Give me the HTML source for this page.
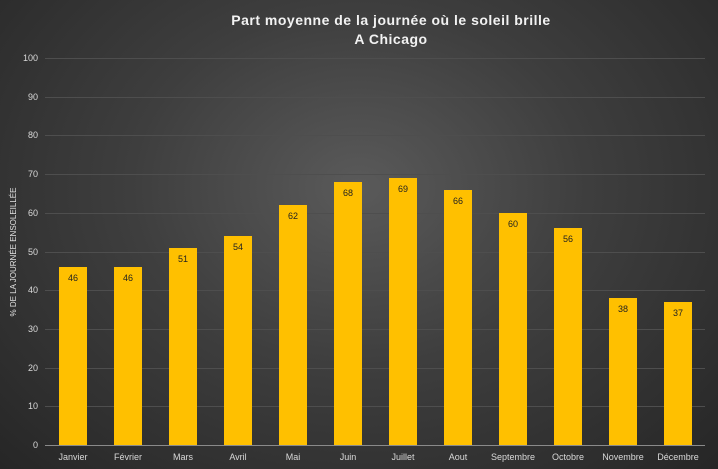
<!DOCTYPE html>
<html><head><meta charset="utf-8"><style>
html,body{margin:0;padding:0;}
body{width:718px;height:469px;overflow:hidden;background:radial-gradient(ellipse at 50% 40%,#5a5a5a 0%,#3e3e3e 45%,#262626 100%);font-family:"Liberation Sans",sans-serif;}
</style></head><body>
<svg width="718" height="469" xmlns="http://www.w3.org/2000/svg" style="position:absolute;left:0;top:0">
<g font-family="Liberation Sans, sans-serif">
<text x="391" y="25" text-anchor="middle" fill="#f2f2f2" font-size="14" font-weight="bold" letter-spacing="0.5">Part moyenne de la journée où le soleil brille</text>
<text x="391" y="44" text-anchor="middle" fill="#f2f2f2" font-size="14" font-weight="bold" letter-spacing="0.5">A Chicago</text>
<g stroke="#4e4e4e" stroke-width="1">
<line x1="45" x2="705" y1="58.5" y2="58.5"/><line x1="45" x2="705" y1="97.5" y2="97.5"/>
<line x1="45" x2="705" y1="135.5" y2="135.5"/><line x1="45" x2="705" y1="174.5" y2="174.5"/>
<line x1="45" x2="705" y1="213.5" y2="213.5"/><line x1="45" x2="705" y1="252.5" y2="252.5"/>
<line x1="45" x2="705" y1="290.5" y2="290.5"/><line x1="45" x2="705" y1="329.5" y2="329.5"/>
<line x1="45" x2="705" y1="368.5" y2="368.5"/><line x1="45" x2="705" y1="406.5" y2="406.5"/>
</g>
<g fill="#d9d9d9" font-size="9" text-anchor="end">
<text x="38" y="61">100</text><text x="38" y="100">90</text><text x="38" y="138">80</text>
<text x="38" y="177">70</text><text x="38" y="216">60</text><text x="38" y="255">50</text>
<text x="38" y="293">40</text><text x="38" y="332">30</text><text x="38" y="371">20</text>
<text x="38" y="409">10</text><text x="38" y="448">0</text>
</g>
<text transform="translate(16,252) rotate(-90)" text-anchor="middle" fill="#e0e0e0" font-size="8">% DE LA JOURNÉE ENSOLEILLÉE</text>
<g fill="#ffc000">
<rect x="59" y="267" width="28" height="178"/>
<rect x="114" y="267" width="28" height="178"/>
<rect x="169" y="248" width="28" height="197"/>
<rect x="224" y="236" width="28" height="209"/>
<rect x="279" y="205" width="28" height="240"/>
<rect x="334" y="182" width="28" height="263"/>
<rect x="389" y="178" width="28" height="267"/>
<rect x="444" y="190" width="28" height="255"/>
<rect x="499" y="213" width="28" height="232"/>
<rect x="554" y="228" width="28" height="217"/>
<rect x="609" y="298" width="28" height="147"/>
<rect x="664" y="302" width="28" height="143"/>
</g>
<g fill="#222" font-size="9" text-anchor="middle">
<text x="73" y="281">46</text><text x="128" y="281">46</text><text x="183" y="262">51</text>
<text x="238" y="250">54</text><text x="293" y="219">62</text><text x="348" y="196">68</text>
<text x="403" y="192">69</text><text x="458" y="204">66</text><text x="513" y="227">60</text>
<text x="568" y="242">56</text><text x="623" y="312">38</text><text x="678" y="316">37</text>
</g>
<line x1="45" x2="705" y1="445.5" y2="445.5" stroke="#8a8a8a" stroke-width="1"/>
<g fill="#d9d9d9" font-size="9" text-anchor="middle">
<text x="73" y="460">Janvier</text><text x="128" y="460">Février</text><text x="183" y="460">Mars</text>
<text x="238" y="460">Avril</text><text x="293" y="460">Mai</text><text x="348" y="460">Juin</text>
<text x="403" y="460">Juillet</text><text x="458" y="460">Aout</text><text x="513" y="460">Septembre</text>
<text x="568" y="460">Octobre</text><text x="623" y="460">Novembre</text><text x="678" y="460">Décembre</text>
</g>
</g>
</svg>
</body></html>
